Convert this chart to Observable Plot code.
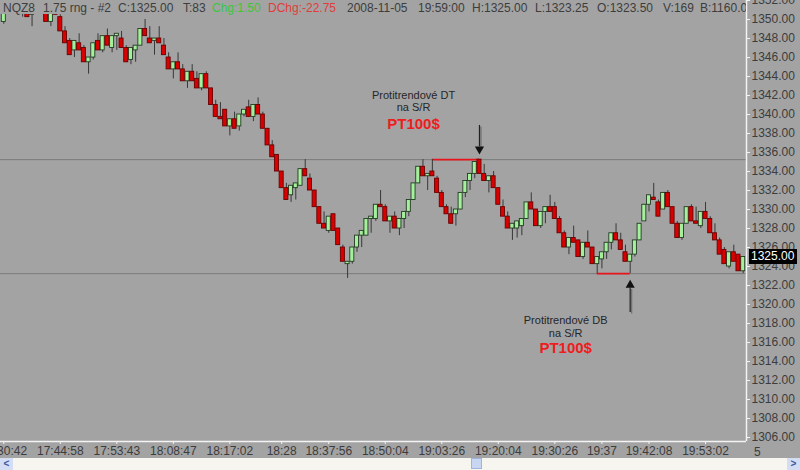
<!DOCTYPE html>
<html>
<head>
<meta charset="utf-8">
<script src="https://cdn.jsdelivr.net/npm/d3@7"></script>
<script src="https://cdn.jsdelivr.net/npm/@observablehq/plot@0.6"></script>
<style>
  html, body { margin: 0; padding: 0; background: #ffffff; }
  #wrap { position: relative; width: 800px; height: 470px; background: #a3a3a3; overflow: hidden;
          font-family: Arial, "Liberation Sans", sans-serif; }
  #chart { position: absolute; left: 0; top: 0; }
  #hdr { position: absolute; left: 0; top: 0; width: 746px; height: 15px; overflow: hidden; font-size: 12px; color: #3d3d3d; }
  #hdr span { position: absolute; top: 1px; white-space: nowrap; line-height: 14px; }
  #last { position: absolute; left: 749px; width: 48px; height: 15px; background: #000; color: #fff; font-size: 12px;
          line-height: 15px; padding-left: 2px; box-sizing: border-box; }
  #scroll { position: absolute; left: 0; top: 458px; width: 800px; height: 12px; background: #f6f5f0; }
  .btn { position: absolute; top: 0; width: 13px; height: 12px; background: #d3def5; color: #3b5aa0; font-size: 10px;
         line-height: 12px; text-align: center; font-weight: bold; }
  #thumb { position: absolute; left: 471px; top: 0; width: 11px; height: 11px; background: #c8d6f2; border: 1px solid #9fb3de; box-sizing: border-box; }
</style>
</head>
<body>
<div id="wrap">
  <div id="chart"></div>
  <div id="hdr"></div>
  <div id="scroll"><div class="btn" style="left:0">&lt;</div><div id="thumb"></div><div class="btn" style="left:787px">&gt;</div></div>
</div>
<script>
// ---- data ----
const opens = [1349.75,1351.25,1352.75,1351.25,1350.75,1352,1350.5,1351,1352.5,1351.25,
1349.75,1352.25,1350.25,1348.75,1347.75,1346.75,1347.5,1347,1345.5,1346,
1347.75,1346.75,1348.25,1347,1348.25,1348,1347,1345.75,1346.75,1347.25,
1349,1348,1347.75,1348,1347.25,1346,1344.75,1345.5,1344.75,1343.5,
1344.5,1343.75,1342.75,1344.25,1342.75,1341,1339.75,1340.5,1338.75,1339.5,
1338.75,1340,1340.75,1339.75,1341,1340,1338.5,1336.75,1335.75,1334,
1332.25,1331.5,1332.25,1332.5,1334.25,1333.25,1332,1330.25,1328.5,1327.75,
1329.5,1328,1326,1324.25,1324.5,1326,1327.25,1327.25,1329,1329,
1330.5,1330.25,1328.75,1329.25,1328,1329,1329.75,1331,1332.75,1334.5,
1333.5,1334,1333.25,1331.75,1330.25,1329.5,1329.5,1330,1331.75,1333,
1333.75,1335.25,1333.75,1333,1333.5,1332.25,1330.25,1329.25,1328,1328,
1328.25,1329,1330.75,1330,1328.25,1329.75,1330.25,1330.25,1329,1327.5,
1326,1327,1326.75,1325,1326.5,1326,1324.25,1324.75,1325.5,1326.5,
1327.5,1326.75,1325.5,1324.5,1325.25,1326.75,1328.75,1330.5,1331.25,1330.75,
1330,1331.75,1330.25,1328.5,1327,1328.5,1330.25,1328.75,1328.25,1329.75,
1329,1327.5,1326.75,1325.75,1324,1325.5,1325.25,1323.5];
const highs = [1351.25,1352.75,1353,1352.5,1352,1352,1351,1352.5,1353,1351.5,
1351,1352.25,1350.5,1349.25,1348,1347.75,1348.5,1347.25,1346,1347.5,
1348.5,1348.25,1349,1348.25,1348.5,1348.75,1347.25,1347,1347.25,1349,
1350,1349.25,1348,1349.25,1348,1346.5,1345.5,1346.5,1345.25,1344.5,
1345.25,1344.5,1344.25,1344.5,1342.75,1341.5,1341.25,1340.5,1339.5,1340.25,
1340,1340.5,1341.5,1341,1341.75,1340.25,1338.5,1337.25,1335.75,1334,
1332.75,1332.5,1332.75,1334.25,1335.25,1333.75,1332,1330.25,1329.75,1329.25,
1329.5,1328,1326.25,1324.5,1326,1327.25,1327.75,1329,1329.25,1330.5,
1332,1330.5,1329.25,1329.75,1329,1329.75,1331,1332.75,1334.5,1335.25,
1333.75,1335.25,1333.5,1332,1330.5,1330.25,1330,1331.75,1333,1333.75,
1335,1335.25,1334.75,1333.5,1334,1332.25,1331,1329.75,1328.5,1328.75,
1329,1330.75,1331.75,1330,1329.75,1330.25,1331.5,1330.75,1329.25,1327.75,
1327,1328.25,1326.75,1326.5,1327.75,1326,1325,1325.5,1326.5,1327.5,
1328.5,1327.5,1326.25,1325.25,1326.75,1328.5,1330.5,1331.5,1332.75,1331,
1331.75,1332,1330.25,1328.75,1328.5,1330.25,1330.5,1330.25,1329.75,1330.75,
1329.25,1328.5,1327,1326,1325.5,1326.25,1325.25,1325];
const lows = [1349.5,1351,1351.25,1350.75,1350.25,1350.25,1349.25,1350.75,1351.25,1349.75,
1349.25,1350.5,1348.75,1347.5,1346.25,1346,1346.75,1345.5,1344.25,1345.75,
1346.75,1346.5,1347.25,1346.5,1346.75,1347,1345.5,1345.25,1345.5,1347.25,
1348.25,1347.5,1346.25,1347.5,1346.25,1344.75,1343.75,1344.75,1343.5,1342.75,
1343.5,1342.75,1342.5,1342.75,1341,1339.75,1339.5,1338.75,1337.75,1338.5,
1338.25,1339.75,1339.75,1339.25,1340,1338.5,1336.75,1335.5,1334,1332.25,
1331,1330.75,1331,1332.5,1333.5,1332,1330.25,1328.5,1328,1327.5,
1327.75,1326.25,1324.5,1322.75,1324.25,1325.5,1326,1327.25,1327.5,1328.75,
1330.25,1328.75,1327.5,1328,1327.25,1328,1329.25,1331,1332.75,1333.5,
1332,1333.5,1331.75,1330.25,1329.5,1328.5,1328.25,1330,1331.25,1332,
1333.25,1333.75,1333,1331.75,1332.25,1330.5,1329.25,1328,1326.75,1327,
1327.25,1329,1330,1328.25,1328,1328.5,1329.75,1329,1327.5,1326,
1325.25,1326.5,1325,1324.75,1326,1324.25,1323.25,1323.75,1324.75,1325.75,
1326.75,1325.75,1324.5,1323.25,1325,1326.75,1328.75,1329.75,1331,1329.25,
1330,1330.25,1328.5,1327,1326.75,1328.5,1328.75,1328.5,1328,1329,
1327.5,1326.75,1325.25,1324.25,1323.75,1324.5,1323.5,1323.25];
const closes = [1351.25,1352.75,1351.25,1352.5,1352,1350.25,1351,1352.5,1351.25,1349.75,
1351,1350.5,1348.75,1347.5,1346.25,1347.75,1346.75,1345.5,1346,1347.5,
1346.75,1348.25,1347.25,1348.25,1348.5,1347,1345.5,1347,1347.25,1349,
1348.25,1347.5,1348,1347.5,1346.25,1344.75,1345.5,1344.75,1343.5,1344.5,
1343.5,1342.75,1344.25,1342.75,1341,1339.75,1339.5,1338.75,1339.5,1338.5,
1340,1340.5,1339.75,1341,1340,1338.5,1336.75,1335.5,1334,1332.25,
1331,1332.5,1332.75,1334.25,1333.5,1332,1330.25,1328.5,1328,1329.25,
1327.75,1326.25,1324.5,1324.5,1326,1327.25,1327.75,1329,1329.25,1330.5,
1330.25,1328.75,1329.25,1328,1329,1329.75,1331,1332.75,1334.5,1333.5,
1333.75,1333.5,1331.75,1330.25,1329.5,1328.5,1330,1331.75,1333,1333.75,
1335,1333.75,1333,1333.5,1332.25,1330.5,1329.25,1328,1328.5,1328.75,
1329,1330.75,1330,1328.25,1329.75,1330.25,1329.75,1329,1327.5,1326,
1327,1326.5,1325,1326.5,1326,1324.25,1325,1325.5,1326.5,1327.5,
1326.75,1325.75,1324.5,1325.25,1326.75,1328.5,1330.5,1331.5,1331,1329.25,
1331.75,1330.25,1328.5,1327,1328.5,1330.25,1328.75,1328.5,1329.75,1329,
1327.5,1326.75,1325.25,1324.25,1325.5,1324.5,1323.5,1325];

const timeTickBars = [0, 12, 24, 36, 48, 59, 69, 81, 93, 105, 117, 127, 137, 149];
const timeTickLabels = ["17:30:42","17:44:58","17:53:43","18:08:47","18:17:02","18:28","18:37:56","18:50:04",
                        "19:03:26","19:20:04","19:30:26","19:37","19:42:08","19:53:02"];
const priceTicks = [1306,1308,1310,1312,1314,1316,1318,1320,1322,1324,1326,1328,1330,1332,1334,1336,1338,1340,1342,1344,1346,1348,1350,1352];

const srLevels = [1335.25, 1323.25];
const patternLevel = [1335.25, 1323.25];
const patternFromBar = [91, 126];
const patternToBar = [101, 133];

const arrowBar = [101, 133];
const arrowTail = [1338.85, 1319.15];
const arrowShaftEnd = [1336.6, 1321.75];
const arrowHead = [1336.35, 1322.05];
const arrowRotate = [180, 0];

const noteText = ["Protitrendové DT", "na S/R", "PT100$", "Protitrendové DB", "na S/R", "PT100$"];
const noteBar = [87, 87, 87, 119.3, 119.3, 119.3];
const notePrice = [1342.0, 1340.7, 1339.0, 1318.3, 1317.0, 1315.4];
const noteBold = [false, false, true, false, false, true];

const headerText = ["NQZ8", "1.75 rng - #2", "C:1325.00", "T:83", "Chg:1.50", "DChg:-22.75", "2008-11-05",
                    "19:59:00", "H:1325.00", "L:1323.25", "O:1323.50", "V:169", "B:1160.00"];
const headerColor = ["#3d3d3d","#3d3d3d","#3d3d3d","#3d3d3d","#3fc43f","#e23b3b","#3d3d3d",
                     "#3d3d3d","#3d3d3d","#3d3d3d","#3d3d3d","#3d3d3d","#3d3d3d"];
const headerLeft = [3, 43, 118, 183, 212, 268, 347, 418, 472, 535, 597, 663, 700];

// ---- build ----
const bars = opens.map((o, i) => ({i, o, h: highs[i], l: lows[i], c: closes[i], up: closes[i] >= o}));
const ups = bars.filter(d => d.up), downs = bars.filter(d => !d.up);
const tickLabel = new Map(timeTickBars.map((b, k) => [b, timeTickLabels[k]]));
const segs = patternLevel.map((y, k) => ({y, x1: patternFromBar[k], x2: patternToBar[k]}));
const arrows = arrowBar.map((x, k) => ({x, y1: arrowTail[k], y2: arrowShaftEnd[k], yh: arrowHead[k], rot: arrowRotate[k]}));
const notes = noteText.map((t, k) => ({t, x: noteBar[k], y: notePrice[k], bold: noteBold[k]}));

const xDomain = [-0.7, 157.7];
const yDomain = [1305.58, 1350.53];
const font = "Arial, 'Liberation Sans', sans-serif";
const half = 0.43;

const plot = Plot.plot({
  width: 800, height: 458,
  marginLeft: 0, marginRight: 54, marginTop: 14, marginBottom: 17,
  style: {background: "transparent", fontFamily: font, fontSize: "12px", color: "#3a3a3a", overflow: "visible"},
  x: {type: "linear", domain: xDomain, axis: null},
  y: {domain: yDomain, axis: null},
  marks: [
    Plot.ruleY(srLevels, {stroke: "#7b7b7b", strokeWidth: 1}),
    Plot.ruleY(segs, {y: "y", x1: "x1", x2: "x2", stroke: "#e8141c", strokeWidth: 1.6}),
    Plot.ruleX(bars, {x: "i", y1: "l", y2: "h", stroke: "#383838", strokeWidth: 1, clip: true}),
    Plot.rect(ups, {x1: d => d.i - half, x2: d => d.i + half, y1: "o", y2: "c", fill: "#a4f09c", stroke: "#243a24", strokeWidth: 0.9, clip: true}),
    Plot.rect(downs, {x1: d => d.i - half, x2: d => d.i + half, y1: "o", y2: "c", fill: "#d80000", stroke: "#6a0000", strokeWidth: 0.9, clip: true}),
    Plot.ruleX(arrows, {x: "x", y1: "y1", y2: "y2", stroke: "#6e6e6e", strokeWidth: 1.2, dx: 1.5, dy: 1.5}),
    Plot.ruleX(arrows, {x: "x", y1: "y1", y2: "y2", stroke: "#222", strokeWidth: 1.2}),
    Plot.dot(arrows.filter(d => d.rot === 180), {x: "x", y: "yh", symbol: "triangle", r: 3.4, fill: "#111", rotate: 180}),
    Plot.dot(arrows.filter(d => d.rot === 0), {x: "x", y: "yh", symbol: "triangle", r: 3.4, fill: "#111"}),
    Plot.text(notes.filter(d => !d.bold), {x: "x", y: "y", text: "t", fill: "#262626", fontSize: 11}),
    Plot.text(notes.filter(d => d.bold), {x: "x", y: "y", text: "t", fill: "#ee1d1d", fontSize: 15, fontWeight: "bold"}),
    Plot.ruleX([xDomain[1]], {y1: yDomain[0], y2: 1353, stroke: "#f4f4f4", strokeWidth: 1.5}),
    Plot.ruleY([yDomain[0]], {x1: xDomain[0], x2: xDomain[1], stroke: "#f4f4f4", strokeWidth: 1.5}),
    Plot.axisY(priceTicks, {anchor: "right", tickSize: 3, tickPadding: 2, stroke: "#f4f4f4", fill: "#3c3c3c",
                            fontSize: 12, tickFormat: d => d.toFixed(2)}),
    Plot.axisX(timeTickBars, {anchor: "bottom", tickSize: 3, tickPadding: 2, stroke: "#f4f4f4", fill: "#3c3c3c",
                              fontSize: 12, tickFormat: d => tickLabel.get(d)})
  ]
});
document.getElementById("chart").appendChild(plot);

// last price box placed via the y scale
const ys = plot.scale("y");
const last = document.createElement("div");
last.id = "last";
last.textContent = closes[closes.length - 1].toFixed(2);
last.style.top = (ys.apply(closes[closes.length - 1]) - 8) + "px";
document.getElementById("wrap").appendChild(last);

const five = document.createElement("div");
five.textContent = "5";
five.style.cssText = "position:absolute;left:754px;top:445px;font-size:12px;color:#3c3c3c;";
document.getElementById("wrap").appendChild(five);

const hdr = document.getElementById("hdr");
headerText.forEach((t, k) => {
  const s = document.createElement("span");
  s.textContent = t;
  s.style.left = headerLeft[k] + "px";
  s.style.color = headerColor[k];
  hdr.appendChild(s);
});
</script>
</body>
</html>
